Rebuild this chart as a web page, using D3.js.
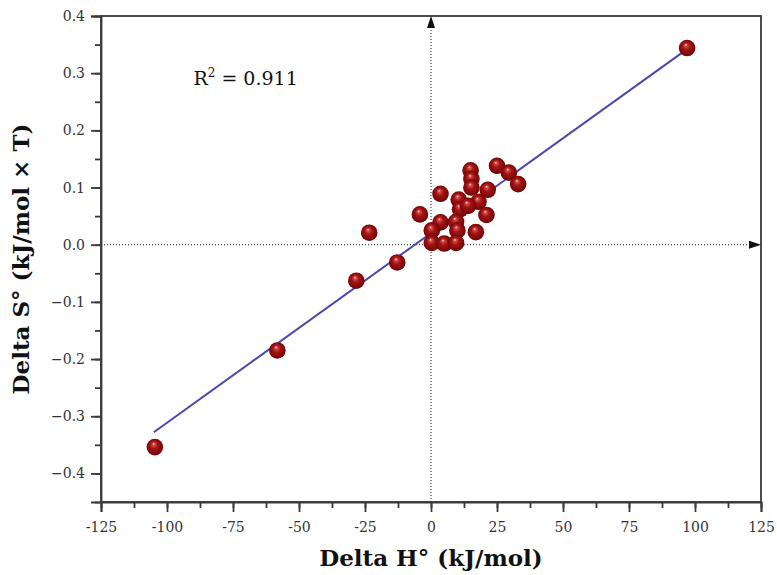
<!DOCTYPE html>
<html>
<head>
<meta charset="utf-8">
<script src="https://cdn.jsdelivr.net/npm/d3@7"></script>
<style>
  html, body { margin: 0; padding: 0; background: #fff; }
  svg { display: block; }
</style>
</head>
<body>
<div id="chart"></div>
<script>
// Delta H° (kJ/mol) vs Delta S° (kJ/mol × T)
const deltaH = [97, -104.6, -58.2, -28.3, -12.8, -23.4, -4.2, 3.6, 15, 15.3, 15.3, 25, 29.5, 33,
  21.5, 10.5, 18, 11, 14, 21, 3.6, 9.5, 0.3, 10, 17, 0.3, 5, 9.5];
const deltaS = [0.344, -0.354, -0.185, -0.063, -0.031, 0.021, 0.053, 0.089, 0.130, 0.115, 0.100, 0.138, 0.126, 0.106,
  0.096, 0.079, 0.075, 0.062, 0.068, 0.052, 0.039, 0.040, 0.025, 0.025, 0.022, 0.003, 0.002, 0.003];

// fitted line end points
const fitH = [-105, 97];
const fitS = [-0.328, 0.342];

const xTicks = [-125, -100, -75, -50, -25, 0, 25, 50, 75, 100, 125];
const yTicks = [0.4, 0.3, 0.2, 0.1, 0.0, -0.1, -0.2, -0.3, -0.4];
const r2Text = '0.911';

const W = 777, H = 575;
const margin = { top: 16, right: 16, bottom: 73, left: 101 };
const width = W - margin.left - margin.right;
const height = H - margin.top - margin.bottom;

const svg = d3.select('#chart').append('svg')
  .attr('width', W).attr('height', H);

const defs = svg.append('defs');
const grad = defs.append('radialGradient')
  .attr('id', 'ball')
  .attr('cx', '50%').attr('cy', '50%').attr('r', '55%')
  .attr('fx', '42%').attr('fy', '30%');
[['0%', '#fae0e0'], ['14%', '#d44c4c'], ['40%', '#a31515'], ['80%', '#800707'], ['100%', '#5a0000']]
  .forEach(([o, c]) => grad.append('stop').attr('offset', o).attr('stop-color', c));

defs.append('marker')
  .attr('id', 'arrow')
  .attr('viewBox', '0 0 12 8')
  .attr('refX', 12).attr('refY', 4)
  .attr('markerWidth', 12).attr('markerHeight', 8)
  .attr('markerUnits', 'userSpaceOnUse')
  .attr('orient', 'auto')
  .append('path')
  .attr('d', 'M0,0 L12,4 L0,8 Z')
  .attr('fill', '#111');

const g = svg.append('g')
  .attr('transform', `translate(${margin.left},${margin.top})`);

// ── Scales ─────────────────────────────────────────────
const xScale = d3.scaleLinear().domain([-125, 125]).range([0, width]);
const yScale = d3.scaleLinear().domain([-0.45, 0.4]).range([height, 0]);

const tickFont = '"DejaVu Serif", "Liberation Serif", serif';
const axisColor = '#3a3a3a';

// ── Frame ──────────────────────────────────────────────
g.append('rect')
  .attr('x', 0).attr('y', 0)
  .attr('width', width).attr('height', height)
  .attr('fill', 'none')
  .attr('stroke', axisColor)
  .attr('stroke-width', 1.8);

// ── Axes ───────────────────────────────────────────────
const xMinor = d3.range(-125, 126, 12.5);
g.append('g')
  .attr('transform', `translate(0,${height})`)
  .call(d3.axisBottom(xScale).tickValues(xMinor).tickSize(6).tickFormat(''))
  .call(ax => ax.select('.domain').remove())
  .call(ax => ax.selectAll('.tick line').attr('stroke', axisColor).attr('stroke-width', 1.8));

g.append('g')
  .attr('transform', `translate(0,${height})`)
  .call(d3.axisBottom(xScale).tickValues(xTicks).tickSize(10).tickPadding(10).tickFormat(d => d))
  .call(ax => ax.select('.domain').attr('stroke', axisColor).attr('stroke-width', 1.8))
  .call(ax => ax.selectAll('.tick line').attr('stroke', axisColor).attr('stroke-width', 1.8))
  .call(ax => ax.selectAll('.tick text')
    .attr('fill', '#333')
    .attr('font-size', '14px')
    .attr('font-family', tickFont));

const yMinor = d3.range(-0.45, 0.401, 0.05).map(v => +v.toFixed(2));
g.append('g')
  .call(d3.axisLeft(yScale).tickValues(yMinor).tickSize(6).tickFormat(''))
  .call(ax => ax.select('.domain').remove())
  .call(ax => ax.selectAll('.tick line').attr('stroke', axisColor).attr('stroke-width', 1.8));

g.append('g')
  .call(d3.axisLeft(yScale).tickValues(yTicks).tickSize(10).tickPadding(6).tickFormat(d3.format('.1f')))
  .call(ax => ax.select('.domain').attr('stroke', axisColor).attr('stroke-width', 1.8))
  .call(ax => ax.selectAll('.tick line').attr('stroke', axisColor).attr('stroke-width', 1.8))
  .call(ax => ax.selectAll('.tick text')
    .attr('fill', '#333')
    .attr('font-size', '14px')
    .attr('font-family', tickFont));

// ── Axis titles ────────────────────────────────────────
g.append('text')
  .attr('x', xScale(0))
  .attr('y', height + 64)
  .attr('text-anchor', 'middle')
  .attr('font-size', '23px')
  .attr('font-weight', 'bold')
  .attr('font-family', tickFont)
  .attr('fill', '#111')
  .text('Delta H° (kJ/mol)');

g.append('text')
  .attr('transform', 'rotate(-90)')
  .attr('x', -yScale(-0.025))
  .attr('y', -72)
  .attr('text-anchor', 'middle')
  .attr('font-size', '23px')
  .attr('font-weight', 'bold')
  .attr('font-family', tickFont)
  .attr('fill', '#111')
  .text('Delta S° (kJ/mol × T)');

// ── Zero lines (dotted, with arrows) ───────────────────
g.append('line')
  .attr('x1', xScale(0)).attr('x2', xScale(0))
  .attr('y1', height).attr('y2', 0)
  .attr('stroke', '#222')
  .attr('stroke-width', 1)
  .attr('stroke-dasharray', '1,2')
  .attr('marker-end', 'url(#arrow)');

g.append('line')
  .attr('x1', 0).attr('x2', width)
  .attr('y1', yScale(0)).attr('y2', yScale(0))
  .attr('stroke', '#222')
  .attr('stroke-width', 1)
  .attr('stroke-dasharray', '1,2')
  .attr('marker-end', 'url(#arrow)');

// ── Fit line ───────────────────────────────────────────
g.append('line')
  .attr('x1', xScale(fitH[0])).attr('y1', yScale(fitS[0]))
  .attr('x2', xScale(fitH[1])).attr('y2', yScale(fitS[1]))
  .attr('stroke', '#4a48b0')
  .attr('stroke-width', 2);

// ── Points ─────────────────────────────────────────────
g.append('g')
  .selectAll('circle')
  .data(deltaH.map((h, i) => [h, deltaS[i]]))
  .join('circle')
  .attr('cx', d => xScale(d[0]))
  .attr('cy', d => yScale(d[1]))
  .attr('r', 8.3)
  .attr('fill', 'url(#ball)');

// ── R² label ───────────────────────────────────────────
const r2 = g.append('text')
  .attr('x', xScale(-90))
  .attr('y', yScale(0.28))
  .attr('font-size', '19px')
  .attr('font-family', tickFont)
  .attr('fill', '#111');
r2.append('tspan').text('R');
r2.append('tspan').attr('dy', -8).attr('font-size', '12px').text('2');
r2.append('tspan').attr('dy', 8).text(` = ${r2Text}`);
</script>
</body>
</html>
